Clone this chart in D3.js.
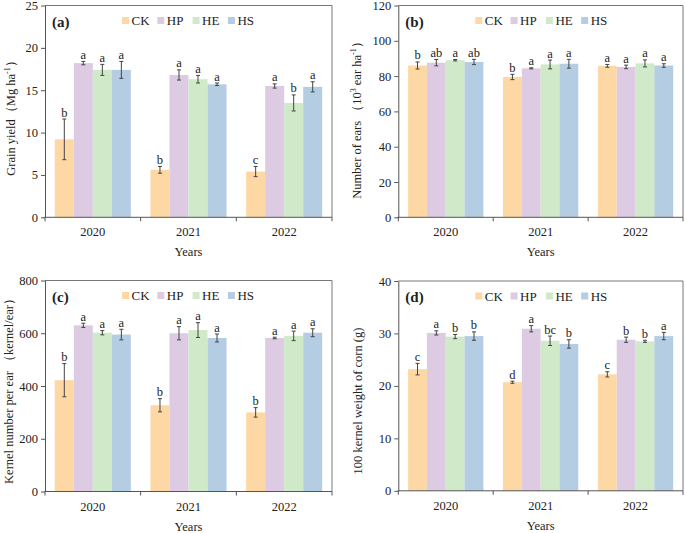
<!DOCTYPE html>
<html>
<head>
<meta charset="utf-8">
<script src="https://cdn.jsdelivr.net/npm/d3@7"></script>
<style>
  body { margin: 0; background: #fff; }
  svg text { font-family: "Liberation Serif", "Times New Roman", serif; fill: #222; }
</style>
</head>
<body>
<svg id="chart" width="685" height="533"></svg>
<script>
// data
var years = ["2020", "2021", "2022"];
var treatments = ["CK", "HP", "HE", "HS"];
var colors = ["#fed8a4", "#dccbe3", "#cfe9c9", "#b5cde2"];

// (a) grain yield, rows = years, cols = CK HP HE HS
var yieldMean = [[9.2, 18.2, 17.4, 17.4], [5.6, 16.8, 16.3, 15.7], [5.4, 15.5, 13.5, 15.4]];
var yieldErr  = [[2.4, 0.2, 0.65, 1.0], [0.4, 0.6, 0.45, 0.15], [0.6, 0.25, 0.95, 0.6]];
var yieldSig  = [["b", "a", "a", "a"], ["b", "a", "a", "a"], ["c", "a", "b", "a"]];
var yieldTicks = [0, 5, 10, 15, 20, 25];

// (b) number of ears
var earsMean = [[86, 87.6, 89, 88], [79.5, 84.4, 86.6, 87], [85.8, 85.2, 87.2, 86]];
var earsErr  = [[2.0, 1.8, 0.4, 1.5], [1.5, 0.3, 2.5, 2.5], [0.8, 1.0, 2.0, 1.0]];
var earsSig  = [["b", "ab", "a", "ab"], ["b", "a", "a", "a"], ["a", "a", "a", "a"]];
var earsTicks = [0, 20, 40, 60, 80, 100, 120];

// (c) kernel number per ear
var kernelMean = [[422, 630, 602, 595], [327, 600, 612, 582], [300, 582, 590, 602]];
var kernelErr  = [[63, 8, 8, 20], [25, 25, 28, 15], [18, 3, 18, 15]];
var kernelSig  = [["b", "a", "a", "a"], ["b", "a", "a", "a"], ["b", "a", "a", "a"]];
var kernelTicks = [0, 200, 400, 600, 800];

// (d) 100 kernel weight
var weightMean = [[23.2, 30.1, 29.4, 29.5], [20.7, 30.9, 28.6, 28.0], [22.2, 28.8, 28.5, 29.5]];
var weightErr  = [[1.1, 0.4, 0.4, 0.8], [0.2, 0.6, 0.9, 0.8], [0.5, 0.5, 0.2, 0.7]];
var weightSig  = [["c", "a", "b", "b"], ["d", "a", "bc", "b"], ["c", "b", "b", "a"]];
var weightTicks = [0, 10, 20, 30, 40];

var svg = d3.select("#chart");

var panels = [
  { tag: "(a)", mean: yieldMean, err: yieldErr, sig: yieldSig, ticks: yieldTicks,
    left: 45, right: 332, top: 5.5, bottom: 217.3, labX: 12, labY: 115,
    label: function(t){ t.append("tspan").text("Grain yield（Mg ha");
      t.append("tspan").attr("dy", -4).style("font-size", "8px").text("-1");
      t.append("tspan").attr("dy", 4).text("）"); } },
  { tag: "(b)", mean: earsMean, err: earsErr, sig: earsSig, ticks: earsTicks,
    left: 398.3, right: 683, top: 5.5, bottom: 217.3, labX: 358, labY: 117,
    label: function(t){ t.append("tspan").text("Number of ears （10");
      t.append("tspan").attr("dy", -4).style("font-size", "8px").text("3");
      t.append("tspan").attr("dy", 4).text(" ear ha");
      t.append("tspan").attr("dy", -4).style("font-size", "8px").text("-1");
      t.append("tspan").attr("dy", 4).text("）"); } },
  { tag: "(c)", mean: kernelMean, err: kernelErr, sig: kernelSig, ticks: kernelTicks,
    left: 45, right: 332, top: 280.5, bottom: 491.5, labX: 10, labY: 388,
    label: function(t){ t.text("Kernel number per ear （kernel/ear）"); } },
  { tag: "(d)", mean: weightMean, err: weightErr, sig: weightSig, ticks: weightTicks,
    left: 398.3, right: 683, top: 281, bottom: 490.8, labX: 359, labY: 401,
    label: function(t){ t.text("100 kernel weight of corn (g)"); } }
];

panels.forEach(function(p) {
  var g = svg.append("g");

  var x = d3.scaleBand().domain(years).range([p.left, p.right]);
  var xSub = d3.scaleBand().domain(treatments).range([9.8, x.bandwidth() - 9.8]);
  var y = d3.scaleLinear().domain([0, d3.max(p.ticks)]).range([p.bottom, p.top]);

  // frame top/right
  g.append("path")
    .attr("d", "M" + p.left + "," + p.top + "H" + p.right + "V" + p.bottom)
    .attr("fill", "none").attr("stroke", "#777").attr("stroke-width", 1);

  // bars
  years.forEach(function(yr, i) {
    treatments.forEach(function(tr, j) {
      var bx = x(yr) + xSub(tr);
      var v = p.mean[i][j], e = p.err[i][j];
      g.append("rect")
        .attr("x", bx).attr("width", xSub.bandwidth())
        .attr("y", y(v)).attr("height", y(0) - y(v))
        .attr("fill", colors[j]);
      var cx = bx + xSub.bandwidth() / 2;
      g.append("path")
        .attr("d", "M" + cx + "," + y(v + e) + "V" + y(v - e) +
          "M" + (cx - 2) + "," + y(v + e) + "h4M" + (cx - 2) + "," + y(v - e) + "h4")
        .attr("stroke", "#444").attr("stroke-width", 1).attr("fill", "none");
      g.append("text")
        .attr("x", cx).attr("y", y(v + e) - 2.5)
        .attr("text-anchor", "middle")
        .style("font-size", "12.5px")
        .text(p.sig[i][j]);
    });
  });

  // y axis
  var yAxis = g.append("g")
    .attr("transform", "translate(" + p.left + ",0)")
    .call(d3.axisLeft(y).tickValues(p.ticks).tickSize(4).tickSizeOuter(0));
  yAxis.selectAll("text").style("font-size", "12.5px").attr("fill", "#222")
    .style("font-family", "Liberation Serif");
  yAxis.selectAll("line, path").attr("stroke", "#555");

  // x axis with ticks at band edges
  var xAxis = g.append("g");
  xAxis.append("line")
    .attr("x1", p.left - 0.5).attr("x2", p.right)
    .attr("y1", p.bottom).attr("y2", p.bottom)
    .attr("stroke", "#555");
  var edges = years.map(function(d){ return x(d); }).concat([p.right]);
  xAxis.selectAll(".edge").data(edges).enter().append("line")
    .attr("x1", function(d){ return d; }).attr("x2", function(d){ return d; })
    .attr("y1", p.bottom).attr("y2", p.bottom + 4)
    .attr("stroke", "#555");
  xAxis.selectAll(".yr").data(years).enter().append("text")
    .attr("x", function(d){ return x(d) + x.bandwidth() / 2; })
    .attr("y", p.bottom + 19)
    .attr("text-anchor", "middle")
    .style("font-size", "12.5px")
    .text(function(d){ return d; });
  g.append("text")
    .attr("x", (p.left + p.right) / 2).attr("y", p.bottom + 39)
    .attr("text-anchor", "middle")
    .style("font-size", "12.5px")
    .text("Years");

  // y label
  var lab = g.append("text")
    .attr("transform", "translate(" + p.labX + "," + p.labY + ") rotate(-90)")
    .attr("text-anchor", "middle")
    .attr("dominant-baseline", "middle")
    .style("font-size", "12.5px");
  p.label(lab);

  // panel tag
  g.append("text")
    .attr("x", p.left + 7).attr("y", p.top + 21)
    .style("font-size", "15px").style("font-weight", "bold")
    .text(p.tag);

  // legend
  var lg = g.append("g").attr("transform", "translate(" + (p.left + 77) + "," + (p.top + 15) + ")");
  treatments.forEach(function(tr, j) {
    lg.append("rect")
      .attr("x", j * 35.3).attr("y", -3.5).attr("width", 7).attr("height", 7)
      .attr("fill", colors[j]);
    lg.append("text")
      .attr("x", j * 35.3 + 9.5).attr("y", 4.5)
      .style("font-size", "13px")
      .text(tr);
  });
});
</script>
</body>
</html>
